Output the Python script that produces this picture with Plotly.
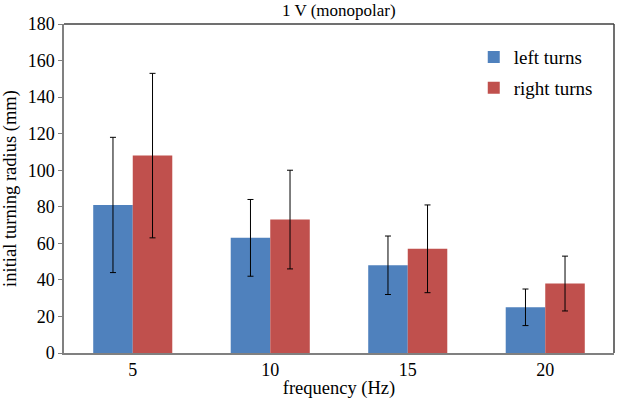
import plotly.graph_objects as go

categories = ["5", "10", "15", "20"]
left_turns = [81, 63, 48, 25]
left_err = [37, 21, 16, 10]
right_turns = [108, 73, 57, 38]
right_err = [45, 27, 24, 15]
y_ticks = [0, 20, 40, 60, 80, 100, 120, 140, 160, 180]

FONT = "Liberation Serif, Times New Roman, DejaVu Serif, serif"

fig = go.Figure()
fig.add_trace(go.Bar(
    x=categories, y=left_turns, name="left turns", legendgroup="a",
    marker=dict(color="#4F81BD", line=dict(width=0)),
    error_y=dict(type="data", array=left_err, color="black", thickness=1, width=3),
))
fig.add_trace(go.Bar(
    x=categories, y=right_turns, name="right turns", legendgroup="b",
    marker=dict(color="#C0504D", line=dict(width=0)),
    error_y=dict(type="data", array=right_err, color="black", thickness=1, width=3),
))

fig.update_layout(
    width=620, height=404,
    margin=dict(l=64, r=6, t=24, b=51),
    paper_bgcolor="white", plot_bgcolor="white",
    font=dict(family=FONT, size=18, color="black"),
    barmode="group", bargap=0.425, bargroupgap=0,
    legend=dict(x=0.745, y=0.957, xanchor="left", yanchor="top", bgcolor="rgba(0,0,0,0)",
                font=dict(family=FONT, size=19), tracegroupgap=3, traceorder="grouped"),
    showlegend=True,
    annotations=[dict(text="1 V (monopolar)", xref="paper", yref="paper", x=0.5, y=1,
                      xanchor="center", yanchor="bottom", yshift=2, showarrow=False,
                      font=dict(family=FONT, size=17, color="black"))],
)
fig.update_xaxes(
    showline=True, linecolor="#808080", linewidth=1.5, mirror=False,
    ticks="", tickfont=dict(family=FONT, size=18),
    title=dict(text="frequency (Hz)", font=dict(family=FONT, size=18.5), standoff=2),
)
fig.update_yaxes(
    range=[0, 180], tickvals=y_ticks, showgrid=False, zeroline=False,
    showline=True, linecolor="#808080", linewidth=1.5,
    ticks="outside", ticklen=4, tickcolor="#808080",
    tickfont=dict(family=FONT, size=18),
    title=dict(text="initial turning radius (mm)", font=dict(family=FONT, size=18.5), standoff=8),
)
# top and right border of the plot area
fig.add_shape(type="line", xref="paper", yref="paper", x0=0, x1=1, y0=1, y1=1,
              line=dict(color="#404040", width=1.5))
fig.add_shape(type="line", xref="paper", yref="paper", x0=1, x1=1, y0=0, y1=1,
              line=dict(color="#404040", width=1.5))

fig.write_html("out.html", config={"displayModeBar": False},
               post_script="document.body.style.margin='0';")
